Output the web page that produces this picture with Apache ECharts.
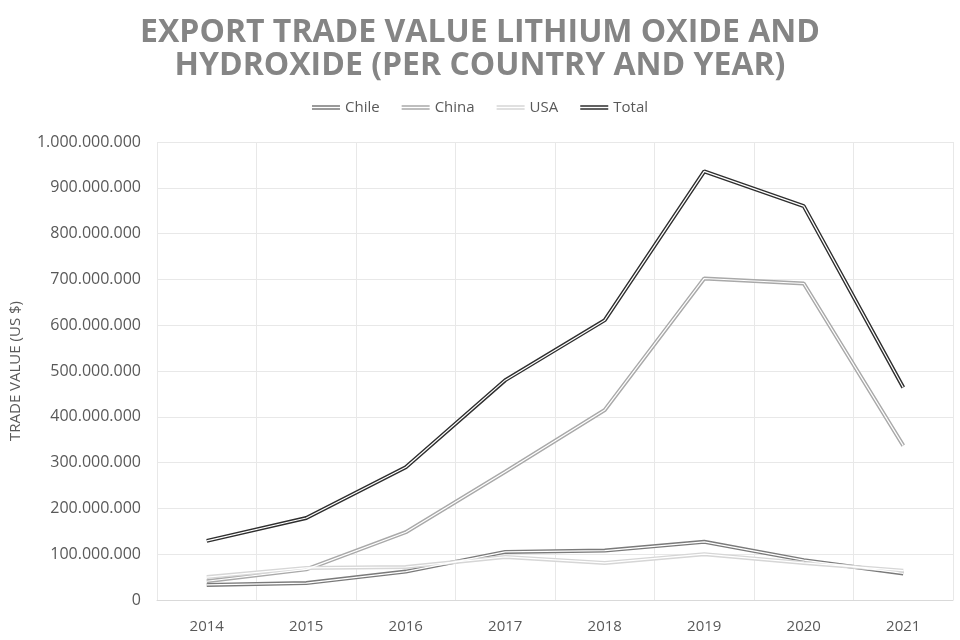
<!DOCTYPE html>
<html>
<head>
<meta charset="utf-8">
<title>Export trade value lithium oxide and hydroxide</title>
<script src="https://cdn.jsdelivr.net/npm/echarts@6/dist/echarts.min.js"></script>
<style>
  html, body { margin: 0; padding: 0; background: #fff; }
  #chart { width: 960px; height: 640px; }
</style>
</head>
<body>
<div id="chart"></div>
<script>
// 数据（从图上读取，单位 US $）
const years = ['2014', '2015', '2016', '2017', '2018', '2019', '2020', '2021']
const chile = [33e6, 37e6, 62e6, 105e6, 108e6, 127e6, 87e6, 58e6]
const china = [41e6, 67e6, 148e6, 280e6, 415e6, 702e6, 691e6, 337e6]
const usa = [50e6, 70e6, 72e6, 94e6, 81e6, 100e6, 81e6, 64e6]
const total = [129e6, 179e6, 290e6, 480e6, 611e6, 936e6, 860e6, 464e6]

const countries = [
  { name: 'Chile', data: chile, color: '#7a7a7a' },
  { name: 'China', data: china, color: '#a9a9a9' },
  { name: 'USA', data: usa, color: '#d6d6d6' },
  { name: 'Total', data: total, color: '#2e2e2e' }
]

// 双线图标
const doubleLine = 'path://M0,0H30V1.6H0Z M0,3.4H30V5H0Z'

const fmt = v => String(Math.round(v)).replace(/\B(?=(\d{3})+(?!\d))/g, '.')

const chart = echarts.init(document.getElementById('chart'))

const series = []
countries.forEach(c => {
  series.push({
    name: c.name,
    type: 'line',
    data: c.data,
    symbol: 'none',
    lineStyle: { color: c.color, width: 4 },
    itemStyle: { color: c.color },
    z: 2
  })
})
countries.forEach(c => {
  // 中间白线，做出双线效果
  series.push({
    name: c.name + ' inner',
    type: 'line',
    data: c.data,
    symbol: 'none',
    silent: true,
    lineStyle: { color: '#ffffff', width: 1.2 },
    z: 3
  })
})

const option = {
  animation: false,
  title: {
    text: 'EXPORT TRADE VALUE LITHIUM OXIDE AND\nHYDROXIDE (PER COUNTRY AND YEAR)',
    left: 'center',
    top: 11,
    textStyle: {
      fontFamily: 'Open Sans',
      fontSize: 32,
      fontWeight: 'bold',
      color: '#858585',
      lineHeight: 33
    }
  },
  legend: {
    top: 95,
    left: 'center',
    itemWidth: 28,
    itemHeight: 5,
    itemGap: 22,
    textStyle: { fontFamily: 'Open Sans', fontSize: 15, color: '#595959' },
    data: countries.map(c => ({
      name: c.name,
      icon: doubleLine,
      itemStyle: { color: c.color, borderWidth: 0 }
    }))
  },
  grid: {
    left: 153,
    right: 7,
    top: 142,
    bottom: 40
  },
  xAxis: {
    type: 'category',
    data: years,
    boundaryGap: true,
    axisLine: { lineStyle: { color: '#d9d9d9' } },
    axisTick: { show: false },
    splitLine: { show: true, lineStyle: { color: '#e8e8e8' } },
    axisLabel: { fontFamily: 'Open Sans', fontSize: 15, color: '#595959', margin: 19 }
  },
  yAxis: {
    type: 'value',
    min: 0,
    max: 1e9,
    interval: 1e8,
    name: 'TRADE VALUE (US $)',
    nameLocation: 'middle',
    nameGap: 134,
    nameTextStyle: { fontFamily: 'Open Sans', fontSize: 15, color: '#595959' },
    axisLine: { show: false },
    axisTick: { show: false },
    splitLine: { lineStyle: { color: '#e8e8e8' } },
    axisLabel: {
      fontFamily: 'Open Sans',
      fontSize: 16,
      color: '#595959',
      margin: 16,
      formatter: fmt
    }
  },
  series
}

chart.setOption(option)
</script>
</body>
</html>
